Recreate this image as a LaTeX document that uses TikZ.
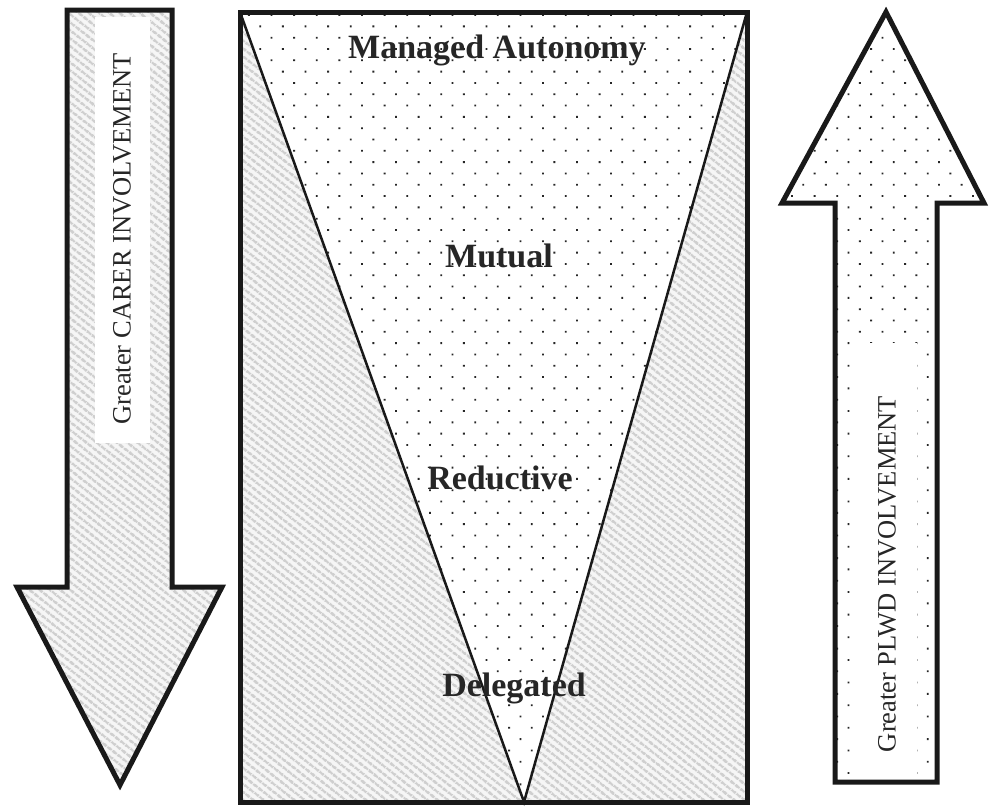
\documentclass[tikz,border=0pt]{standalone}
\usepackage{fontspec}
\setmainfont{Liberation Serif}
\usetikzlibrary{patterns.meta}

\begin{document}
\begin{tikzpicture}[x=1pt,y=-1pt,line join=miter,
  hatchfill/.style={preaction={fill=gray!7},
    pattern={Lines[angle=-38,distance=6.5pt,line width=3pt]},pattern color=gray!38},
  dotfill/.style={preaction={fill=white},
    pattern={Dots[angle=45,distance=16pt,radius=1.3pt]},pattern color=black!85},
  outline/.style={draw=black!90,line width=5pt},
  sidelabel/.style={rotate=90,text=black!85,font=\fontsize{26.5}{30}\selectfont},
  stagelabel/.style={text=black!85,font=\fontsize{34}{38}\selectfont\bfseries}]

\useasboundingbox (0,0) rectangle (989,807);

% downward arrow: carer involvement
\path[hatchfill,outline] (67,10) -- (172,10) -- (172,587) -- (222,587)
  -- (120,785) -- (17,587) -- (67,587) -- cycle;
\fill[white] (95,17) rectangle (150,443);
\node[sidelabel] (carer) at (122,239) {Greater CARER INVOLVEMENT};

% central panel with the funnel of decision styles
\fill[hatchfill] (240,12) rectangle (747,802);
\fill[dotfill] (240,12) -- (524,802) -- (747,12) -- cycle;
\draw[black!90,line width=2.5pt] (240,12) -- (524,802) -- (747,12);
\draw[outline] (240,12) rectangle (747,802);

\node[stagelabel] (managed) at (497,50) {Managed Autonomy};
\node[stagelabel] (mutual) at (499,256) {Mutual};
\node[stagelabel] (reductive) at (500,478) {Reductive};
\node[stagelabel] (delegated) at (514,688) {Delegated};

% upward arrow: PLWD involvement
\path[dotfill,outline] (835,782) -- (835,203) -- (782,203) -- (886,12)
  -- (984,203) -- (937,203) -- (937,782) -- cycle;
\fill[white] (858,343) rectangle (917,778);
\node[sidelabel] (plwd) at (887,574) {Greater PLWD INVOLVEMENT};

\end{tikzpicture}
\end{document}
